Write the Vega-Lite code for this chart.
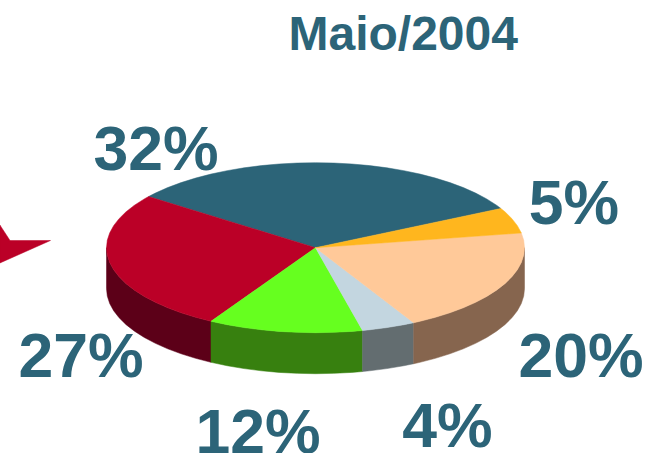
{"$schema":"https://vega.github.io/schema/vega-lite/v6.json","width":649,"height":453,"padding":0,"autosize":"none","background":"white",
"title":{"text":"Maio/2004","anchor":"start","frame":"group","dx":288.5,"offset":-97.5,"baseline":"alphabetic","fontSize":48,"font":"Liberation Sans","fontWeight":"bold","color":"#2c6478"},
"projection":{"type":"identity","reflectY":true,"scale":2.09,"translate":[315.5,247.7]},
"layer":[
{"data":{"values":[
{"type":"Feature","properties":{"part":"Marcador"},"geometry":{"type":"Polygon","coordinates":[[[-151,10.86],[-146.17,3.44],[-126.8,3.44],[-151,-7.32],[-151,10.86]]]}},
{"type":"Feature","properties":{"part":"27% lateral"},"geometry":{"type":"Polygon","coordinates":[[[-100,0],[-99.62,-3.54],[-98.48,-7.06],[-96.59,-10.53],[-93.97,-13.91],[-90.63,-17.19],[-86.6,-20.34],[-81.92,-23.33],[-76.6,-26.14],[-70.71,-28.76],[-64.28,-31.15],[-57.36,-33.31],[-50,-35.22],[-50,-54.84],[-57.36,-52.93],[-64.28,-50.77],[-70.71,-48.38],[-76.6,-45.76],[-81.92,-42.95],[-86.6,-39.96],[-90.63,-36.81],[-93.97,-33.53],[-96.59,-30.15],[-98.48,-26.68],[-99.62,-23.16],[-100,-19.62],[-100,0]]]}},
{"type":"Feature","properties":{"part":"12% lateral"},"geometry":{"type":"Polygon","coordinates":[[[-50,-35.22],[-42.26,-36.86],[-34.2,-38.22],[-25.88,-39.28],[-17.36,-40.05],[-8.72,-40.51],[0,-40.67],[8.72,-40.51],[17.36,-40.05],[22.5,-39.63],[22.5,-59.25],[17.36,-59.67],[8.72,-60.13],[0,-60.29],[-8.72,-60.13],[-17.36,-59.67],[-25.88,-58.9],[-34.2,-57.84],[-42.26,-56.48],[-50,-54.84],[-50,-35.22]]]}},
{"type":"Feature","properties":{"part":"4% lateral"},"geometry":{"type":"Polygon","coordinates":[[[22.5,-39.63],[25.88,-39.28],[34.2,-38.22],[42.26,-36.86],[46.95,-35.91],[46.95,-55.53],[42.26,-56.48],[34.2,-57.84],[25.88,-58.9],[22.5,-59.25],[22.5,-39.63]]]}},
{"type":"Feature","properties":{"part":"20% lateral"},"geometry":{"type":"Polygon","coordinates":[[[46.95,-35.91],[50,-35.22],[57.36,-33.31],[64.28,-31.15],[70.71,-28.76],[76.6,-26.14],[81.92,-23.33],[86.6,-20.34],[90.63,-17.19],[93.97,-13.91],[96.59,-10.53],[98.48,-7.06],[99.62,-3.54],[100,0],[100,-19.62],[99.62,-23.16],[98.48,-26.68],[96.59,-30.15],[93.97,-33.53],[90.63,-36.81],[86.6,-39.96],[81.92,-42.95],[76.6,-45.76],[70.71,-48.38],[64.28,-50.77],[57.36,-52.93],[50,-54.84],[46.95,-55.53],[46.95,-35.91]]]}},
{"type":"Feature","properties":{"part":"32%"},"geometry":{"type":"Polygon","coordinates":[[[0,0],[88.7,18.78],[86.6,20.34],[81.92,23.33],[76.6,26.14],[70.71,28.76],[64.28,31.15],[57.36,33.31],[50,35.22],[42.26,36.86],[34.2,38.22],[25.88,39.28],[17.36,40.05],[8.72,40.51],[0,40.67],[-8.72,40.51],[-17.36,40.05],[-25.88,39.28],[-34.2,38.22],[-42.26,36.86],[-50,35.22],[-57.36,33.31],[-64.28,31.15],[-70.71,28.76],[-76.6,26.14],[-79.86,24.48],[0,0]]]}},
{"type":"Feature","properties":{"part":"27%"},"geometry":{"type":"Polygon","coordinates":[[[0,0],[-79.86,24.48],[-81.92,23.33],[-86.6,20.34],[-90.63,17.19],[-93.97,13.91],[-96.59,10.53],[-98.48,7.06],[-99.62,3.54],[-100,0],[-99.62,-3.54],[-98.48,-7.06],[-96.59,-10.53],[-93.97,-13.91],[-90.63,-17.19],[-86.6,-20.34],[-81.92,-23.33],[-76.6,-26.14],[-70.71,-28.76],[-64.28,-31.15],[-57.36,-33.31],[-50,-35.22],[0,0]]]}},
{"type":"Feature","properties":{"part":"12%"},"geometry":{"type":"Polygon","coordinates":[[[0,0],[-50,-35.22],[-42.26,-36.86],[-34.2,-38.22],[-25.88,-39.28],[-17.36,-40.05],[-8.72,-40.51],[0,-40.67],[8.72,-40.51],[17.36,-40.05],[22.5,-39.63],[0,0]]]}},
{"type":"Feature","properties":{"part":"4%"},"geometry":{"type":"Polygon","coordinates":[[[0,0],[22.5,-39.63],[25.88,-39.28],[34.2,-38.22],[42.26,-36.86],[46.95,-35.91],[0,0]]]}},
{"type":"Feature","properties":{"part":"20%"},"geometry":{"type":"Polygon","coordinates":[[[0,0],[46.95,-35.91],[50,-35.22],[57.36,-33.31],[64.28,-31.15],[70.71,-28.76],[76.6,-26.14],[81.92,-23.33],[86.6,-20.34],[90.63,-17.19],[93.97,-13.91],[96.59,-10.53],[98.48,-7.06],[99.62,-3.54],[100,0],[99.62,3.54],[98.48,7.06],[0,0]]]}},
{"type":"Feature","properties":{"part":"5%"},"geometry":{"type":"Polygon","coordinates":[[[0,0],[98.48,7.06],[96.59,10.53],[93.97,13.91],[90.63,17.19],[88.7,18.78],[0,0]]]}}
]},
"mark":{"type":"geoshape","strokeWidth":0.5},
"encoding":{
"color":{"field":"properties.part","type":"nominal","legend":null,"scale":{"domain":["32%","27%","12%","4%","20%","5%","27% lateral","12% lateral","4% lateral","20% lateral","Marcador"],"range":["#2c6478","#bb0027","#66ff1f","#c3d6e0","#ffc999","#ffb61e","#5c0018","#37800f","#636d70","#86654e","#bb0027"]}},
"stroke":{"field":"properties.part","type":"nominal","legend":null,"scale":{"domain":["32%","27%","12%","4%","20%","5%","27% lateral","12% lateral","4% lateral","20% lateral","Marcador"],"range":["#2c6478","#bb0027","#66ff1f","#c3d6e0","#ffc999","#ffb61e","#5c0018","#37800f","#636d70","#86654e","#bb0027"]}}
}},
{"data":{"values":[
{"label":"32%","lon":-76.3,"lat":37.2},
{"label":"5%","lon":123.7,"lat":11.34},
{"label":"27%","lon":-112.2,"lat":-61.87},
{"label":"20%","lon":127,"lat":-61.87},
{"label":"12%","lon":-27.5,"lat":-98.2},
{"label":"4%","lon":63.1,"lat":-95.4}
]},
"mark":{"type":"text","align":"center","baseline":"alphabetic","font":"Liberation Sans","fontWeight":"bold","fontSize":62.5,"color":"#2c6478"},
"encoding":{"longitude":{"field":"lon","type":"quantitative"},"latitude":{"field":"lat","type":"quantitative"},"text":{"field":"label","type":"nominal"}}}
],
"config":{"view":{"stroke":null}}}
